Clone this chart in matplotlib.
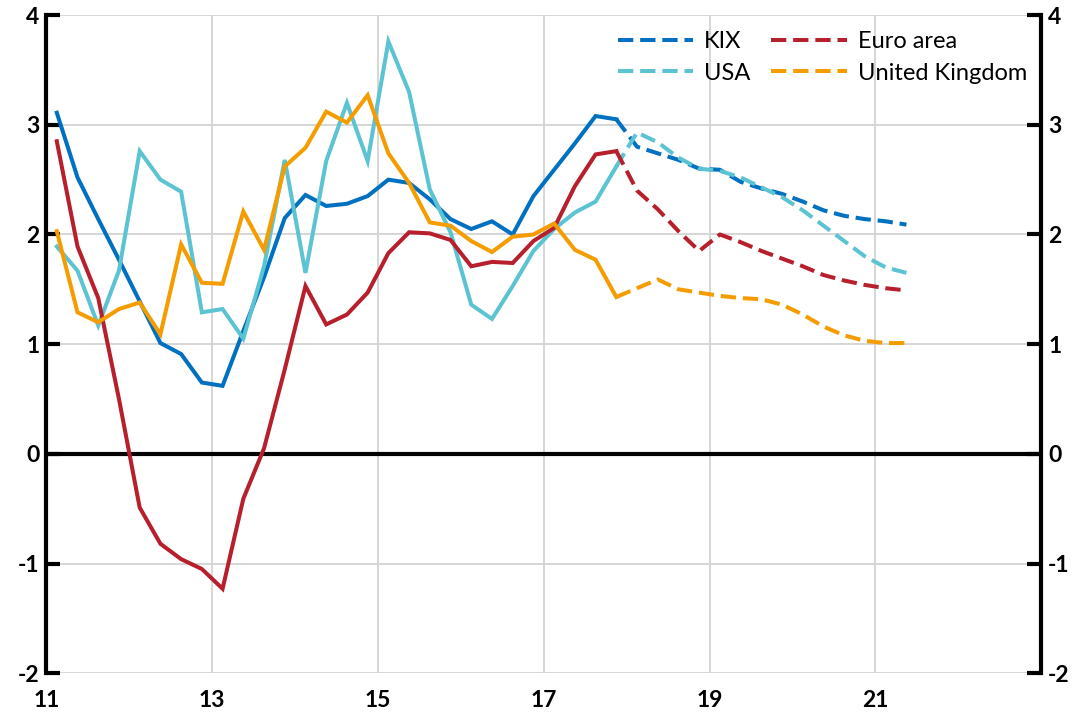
"""
Inflación: KIX, USA, Euro area y United Kingdom.
Series trimestrales 2011-2021, historia (línea sólida) y pronóstico (línea discontinua).
"""

import numpy as np
import matplotlib
matplotlib.use("Agg")
import matplotlib.pyplot as plt

# Trimestres históricos: 2011T1 .. 2017T4
kix_hist = [3.11, 2.52, 2.14, 1.77, 1.39, 1.01, 0.91, 0.65, 0.62, 1.12, 1.61, 2.15, 2.36, 2.26,
            2.28, 2.35, 2.50, 2.47, 2.32, 2.14, 2.05, 2.12, 2.00, 2.35, 2.59, 2.83, 3.08, 3.05]
usa_hist = [1.89, 1.67, 1.17, 1.67, 2.76, 2.50, 2.39, 1.29, 1.32, 1.05, 1.71, 2.68, 1.65, 2.67,
            3.20, 2.67, 3.76, 3.30, 2.41, 2.02, 1.36, 1.23, 1.53, 1.85, 2.05, 2.20, 2.30, 2.62]
euro_hist = [2.85, 1.89, 1.42, 0.50, -0.49, -0.82, -0.96, -1.05, -1.23, -0.41, 0.05, 0.77, 1.53, 1.18,
             1.27, 1.47, 1.83, 2.02, 2.01, 1.95, 1.71, 1.75, 1.74, 1.94, 2.06, 2.44, 2.73, 2.76]
uk_hist = [2.03, 1.29, 1.20, 1.32, 1.38, 1.09, 1.91, 1.56, 1.55, 2.21, 1.86, 2.62, 2.79, 3.12,
           3.02, 3.27, 2.74, 2.47, 2.11, 2.08, 1.94, 1.84, 1.98, 2.00, 2.10, 1.86, 1.77, 1.43]

# Pronóstico: 2017T4 .. 2021T2 (arranca en el último dato histórico)
kix_fc = [3.05, 2.80, 2.74, 2.68, 2.60, 2.59, 2.48, 2.42, 2.37, 2.30, 2.22, 2.17, 2.14, 2.12, 2.09]
usa_fc = [2.62, 2.93, 2.84, 2.70, 2.60, 2.58, 2.52, 2.43, 2.34, 2.22, 2.08, 1.94, 1.80, 1.70, 1.65]
euro_fc = [2.76, 2.40, 2.23, 2.03, 1.85, 2.00, 1.93, 1.85, 1.78, 1.71, 1.63, 1.58, 1.54, 1.51, 1.49]
uk_fc = [1.43, 1.51, 1.59, 1.50, 1.47, 1.44, 1.42, 1.41, 1.36, 1.27, 1.16, 1.08, 1.03, 1.01, 1.01]

labels = ["KIX", "USA", "Euro area", "United Kingdom"]
colors = ["#0070C0", "#5BC3D1", "#B81F2D", "#F59D00"]
year_ticks = [11, 13, 15, 17, 19, 21]
y_ticks = [-2, -1, 0, 1, 2, 3, 4]

START_YEAR = 11
FONT = ["Lato", "DejaVu Sans"]
LW = 2.9


def quarter_x(first_index: int, n: int) -> np.ndarray:
    """Posición de cada trimestre en el eje (año + mitad del trimestre)."""
    idx = np.arange(first_index, first_index + n)
    return START_YEAR + (idx + 0.5) / 4.0


def main() -> None:
    plt.rcParams["font.family"] = FONT
    fig = plt.figure(figsize=(10.8, 7.2), dpi=100)
    ax = fig.add_axes([0.043, 0.065, 0.921, 0.914])

    hist = [kix_hist, usa_hist, euro_hist, uk_hist]
    fc = [kix_fc, usa_fc, euro_fc, uk_fc]
    n_hist = len(kix_hist)

    for h, c in zip(hist, colors):
        ax.plot(quarter_x(0, len(h)), h, color=c, lw=LW, solid_joinstyle="miter", zorder=3)

    handles = []
    for f, c, lab in zip(fc, colors, labels):
        ln, = ax.plot(quarter_x(n_hist - 1, len(f)), f, color=c, lw=LW,
                      linestyle=(0, (3.8, 1.7)), dash_capstyle="butt", label=lab, zorder=3)
        handles.append(ln)

    ax.set_xlim(11, 23)
    ax.set_ylim(-2, 4)

    # rejilla
    for yv in y_ticks:
        ax.axhline(yv, color="#D3D3D3", lw=1.3, zorder=1)
    for xv in year_ticks[1:]:
        ax.axvline(xv, color="#D3D3D3", lw=1.3, zorder=1)
    ax.axhline(0, color="black", lw=3, zorder=2)

    for side in ["top", "bottom"]:
        ax.spines[side].set_visible(False)
    for side in ["left", "right"]:
        ax.spines[side].set_linewidth(3)
        ax.spines[side].set_zorder(4)

    ax.set_yticks(y_ticks)
    ax.set_yticklabels([str(v) for v in y_ticks])
    ax.tick_params(axis="y", which="both", direction="in", length=10, width=3,
                   left=True, right=True, labelleft=True, labelright=True,
                   labelsize=16.5, pad=5)
    for lbl in ax.get_yticklabels():
        lbl.set_fontweight("bold")

    ax.set_xticks(year_ticks)
    ax.set_xticklabels([str(v) for v in year_ticks])
    ax.tick_params(axis="x", length=0, labelsize=16.5, pad=12)
    for lbl in ax.get_xticklabels():
        lbl.set_fontweight("bold")

    ax.legend(handles, labels, ncol=2, loc="upper right", bbox_to_anchor=(1.007, 1.008),
              frameon=False, fontsize=17, handlelength=3.2,
              handletextpad=0.45, columnspacing=0.9, labelspacing=0.45)

    fig.savefig("out.png", dpi=100)
    plt.close(fig)


if __name__ == "__main__":
    main()
